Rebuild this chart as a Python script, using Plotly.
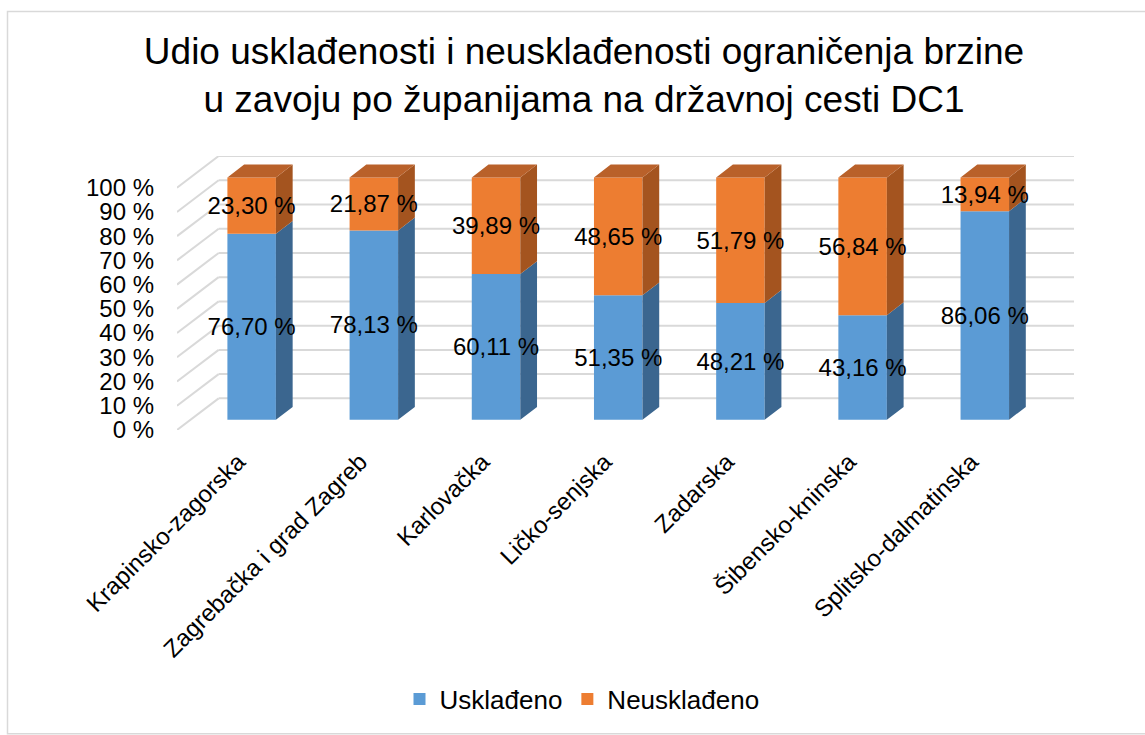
import plotly.graph_objects as go

# --- data -------------------------------------------------------------
zupanije = ["Krapinsko-zagorska", "Zagrebačka i grad Zagreb", "Karlovačka",
            "Ličko-senjska", "Zadarska", "Šibensko-kninska", "Splitsko-dalmatinska"]
uskladeno = [76.70, 78.13, 60.11, 51.35, 48.21, 43.16, 86.06]
neuskladeno = [23.30, 21.87, 39.89, 48.65, 51.79, 56.84, 13.94]
y_ticks = [0, 10, 20, 30, 40, 50, 60, 70, 80, 90, 100]

# --- pseudo-3D geometry (axis units) ---------------------------------
WALL_DX, WALL_DY = 0.341, 13.06      # depth of floor / back wall
BAR_SX, BAR_SY = 0.111, 4.24         # bar front face pushed back into the scene
BAR_DX, BAR_DY = 0.137, 5.3          # bar depth
BAR_W = 0.397

BLUE, BLUE_SIDE = "#5b9bd5", "#3b668f"
ORANGE, ORANGE_SIDE, ORANGE_TOP = "#ed7d31", "#a4541f", "#b9612a"
GRID = "#d9d9d9"
FONT = "Liberation Sans, Arial, sans-serif"

ML, MR, MT, MB = 177, 71, 156, 302
W, H = 1145, 735

fig = go.Figure()

# front faces
series = [("Usklađeno", uskladeno, [0] * len(zupanije), BLUE),
          ("Neusklađeno", neuskladeno, uskladeno, ORANGE)]
for name, vals, bases, col in series:
    fig.add_trace(go.Bar(
        x=[i + BAR_SX for i in range(len(zupanije))],
        y=vals,
        base=[b + BAR_SY for b in bases],
        width=BAR_W, name=name, marker=dict(color=col, line=dict(width=0)),
        hoverinfo="skip", textposition="none"))

# side faces
def side_poly(bases, vals):
    xs, ys = [], []
    for i, (b, v) in enumerate(zip(bases, vals)):
        x0 = i + BAR_SX + BAR_W / 2
        y0, y1 = b + BAR_SY, b + v + BAR_SY
        xs += [x0, x0 + BAR_DX, x0 + BAR_DX, x0, x0, None]
        ys += [y0, y0 + BAR_DY, y1 + BAR_DY, y1, y0, None]
    return xs, ys

for (name, vals, bases, col), side in zip(series, [BLUE_SIDE, ORANGE_SIDE]):
    xs, ys = side_poly(bases, vals)
    fig.add_trace(go.Scatter(x=xs, y=ys, mode="lines", fill="toself",
                             fillcolor=side, line=dict(width=0, color=side),
                             showlegend=False, hoverinfo="skip"))

# top faces
xs, ys = [], []
for i, (b, v) in enumerate(zip(uskladeno, neuskladeno)):
    t = b + v + BAR_SY
    xl = i + BAR_SX - BAR_W / 2
    xr = i + BAR_SX + BAR_W / 2
    xs += [xl, xr, xr + BAR_DX, xl + BAR_DX, xl, None]
    ys += [t, t, t + BAR_DY, t + BAR_DY, t, None]
fig.add_trace(go.Scatter(x=xs, y=ys, mode="lines", fill="toself",
                         fillcolor=ORANGE_TOP, line=dict(width=0, color=ORANGE_TOP),
                         showlegend=False, hoverinfo="skip"))

# data labels
def fmt(v):
    return f"{v:.2f}".replace(".", ",") + " %"

lx, ly, lt = [], [], []
for i, (a, b) in enumerate(zip(uskladeno, neuskladeno)):
    lx += [i + BAR_SX, i + BAR_SX]
    ly += [a / 2 + BAR_SY - 1, a + b / 2 + BAR_SY - 1]
    lt += [fmt(a), fmt(b)]
fig.add_trace(go.Scatter(x=lx, y=ly, text=lt, mode="text",
                         textfont=dict(size=24, color="#000000", family=FONT),
                         showlegend=False, hoverinfo="skip"))

# gridlines on floor edge + back wall
shapes = []
x_left = -0.5
x_right = len(zupanije) - 0.5 + WALL_DX
for v in y_ticks:
    shapes.append(dict(type="line", xref="x", yref="y", layer="below",
                       x0=x_left, y0=v, x1=x_left + WALL_DX, y1=v + WALL_DY,
                       line=dict(color=GRID, width=2)))
    shapes.append(dict(type="line", xref="x", yref="y", layer="below",
                       x0=x_left + WALL_DX, y0=v + WALL_DY, x1=x_right, y1=v + WALL_DY,
                       line=dict(color=GRID, width=2)))

# chart border
pw, ph = W - ML - MR, H - MT - MB
def px_x(p):
    return (p - ML) / pw
def px_y(p):
    return (H - MB - p) / ph
shapes.append(dict(type="rect", xref="paper", yref="paper", layer="below",
                   x0=px_x(7.5), x1=px_x(1150), y0=px_y(10), y1=px_y(740),
                   line=dict(color="#d9d9d9", width=1.5), fillcolor="rgba(0,0,0,0)"))

fig.update_layout(
    width=W, height=H,
    margin=dict(l=ML, r=MR, t=MT, b=MB),
    paper_bgcolor="white", plot_bgcolor="white",
    barmode="overlay",
    font=dict(family=FONT, color="#000000"),
    title=dict(text="Udio usklađenosti i neusklađenosti ograničenja brzine<br>"
                    "u zavoju po županijama na državnoj cesti DC1",
               x=584 / W, xanchor="center", xref="container",
               y=1 - 64 / H, yanchor="top", yref="container",
               font=dict(size=37, color="#000000", family=FONT)),
    xaxis=dict(range=[x_left, x_right], tickvals=list(range(len(zupanije))),
               ticktext=zupanije, tickangle=-45, showgrid=False, zeroline=False,
               showline=False, ticks="", ticklabelstandoff=12,
               tickfont=dict(size=24, family=FONT, color="#000000")),
    yaxis=dict(range=[0, 100 + WALL_DY], tickvals=y_ticks,
               ticktext=[f"{v} %" for v in y_ticks], showgrid=False,
               zeroline=False, showline=False, ticks="", ticklabelstandoff=22,
               tickfont=dict(size=24, family=FONT, color="#000000")),
    legend=dict(orientation="h", x=px_x(582), xanchor="center",
                y=px_y(705), yanchor="middle",
                font=dict(size=26, family=FONT, color="#000000"),
                bgcolor="rgba(0,0,0,0)"),
    shapes=shapes,
)

fig.write_html("out.html")
